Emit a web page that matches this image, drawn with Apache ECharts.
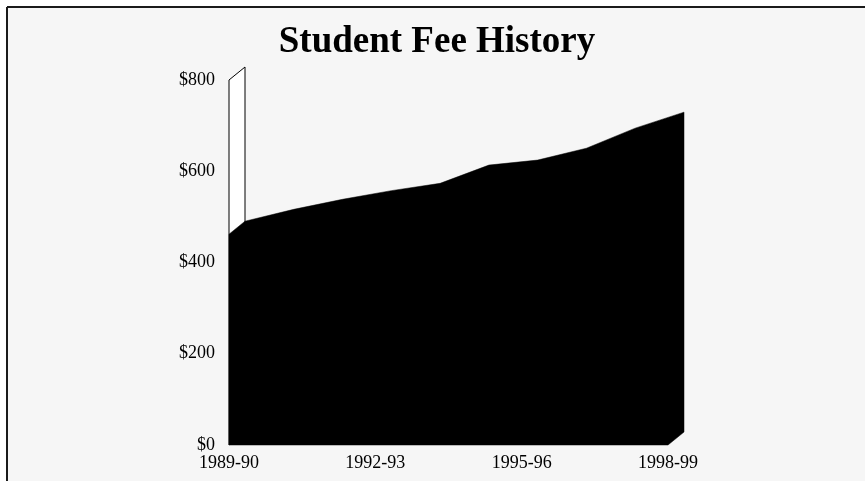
<!DOCTYPE html>
<html>
<head>
<meta charset="utf-8">
<script src="https://cdn.jsdelivr.net/npm/echarts@6/dist/echarts.min.js"></script>
<style>
html,body{margin:0;padding:0;background:#fff;}
#chart{width:865px;height:481px;}
</style>
</head>
<body>
<div id="chart"></div>
<script>
const categories = ['1989-90','1990-91','1991-92','1992-93','1993-94','1994-95','1995-96','1996-97','1997-98','1998-99'];
const fees = [462, 488, 510, 529, 545, 585, 596, 622, 666, 701];
const yTicks = [0, 200, 400, 600, 800];

const DX = 16, DY = -13;
const chart = echarts.init(document.getElementById('chart'), null, {renderer:'canvas'});

function renderArea(params, api) {
  const children = [];
  const base0 = api.coord([0, 0]);
  const top0 = api.coord([0, yTicks[yTicks.length-1]]);
  // left wall
  children.push({
    type:'polygon', z2:0,
    shape:{points:[[base0[0],base0[1]],[top0[0],top0[1]],[top0[0]+DX,top0[1]+DY],[base0[0]+DX,base0[1]+DY]]},
    style:{fill:'#ffffff', stroke:'#000', lineWidth:1}
  });
  const n = fees.length - 1;
  const pts = [];
  const a0 = api.coord([0, fees[0]]);
  pts.push([base0[0], base0[1]]);
  pts.push([a0[0], a0[1]]);
  for (let i = 0; i <= n; i++) {
    const p = api.coord([i, fees[i]]);
    pts.push([p[0]+DX, p[1]+DY]);
  }
  const eb = api.coord([n, 0]);
  pts.push([eb[0]+DX, eb[1]+DY]);
  pts.push([eb[0], eb[1]]);
  children.push({
    type:'polygon', z2:1,
    shape:{points:pts},
    style:{fill:'#000', stroke:'#000', lineWidth:0.5}
  });
  return {type:'group', children};
}

chart.setOption({
  backgroundColor:'#ffffff',
  animation:false,
  graphic:[
    {type:'rect', z:-10, shape:{x:7,y:7,width:858,height:474}, style:{fill:'#f6f6f6'}},
    {type:'line', z:-9, shape:{x1:7,y1:7,x2:865,y2:7}, style:{stroke:'#1a1a1a', lineWidth:2}},
    {type:'line', z:-9, shape:{x1:7,y1:7,x2:7,y2:481}, style:{stroke:'#1a1a1a', lineWidth:2}},
    {type:'text', z:10, x:437, y:42, style:{text:'Student Fee History', textAlign:'center', textVerticalAlign:'middle',
      font:'bold 37px "Liberation Serif"', fill:'#000'}}
  ],
  grid:{left:229, right:197, top:80, bottom:36},
  xAxis:{
    type:'category', data:categories, boundaryGap:false,
    axisLine:{show:false}, axisTick:{show:false}, splitLine:{show:false},
    axisLabel:{interval:2, margin:9, fontFamily:'Liberation Serif', fontSize:18, color:'#000'}
  },
  yAxis:{
    type:'value', min:0, max:800, interval:200,
    axisLine:{show:false}, axisTick:{show:false}, splitLine:{show:false},
    axisLabel:{margin:14, fontFamily:'Liberation Serif', fontSize:18, color:'#000', formatter:v=>'$'+v}
  },
  series:[{
    type:'custom', renderItem:(p, api)=> p.dataIndex===0 ? renderArea(p, api) : null,
    data:fees.map((v,i)=>[i,v]), clip:false, silent:true
  }]
});
</script>
</body>
</html>
